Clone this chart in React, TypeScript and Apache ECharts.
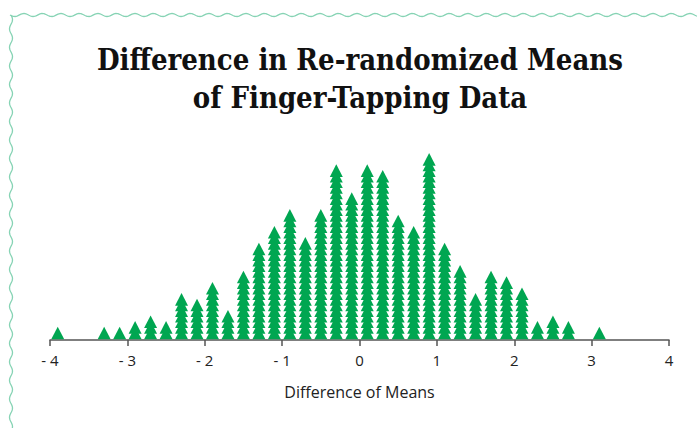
import React, { useEffect, useRef } from "react";
import * as echarts from "echarts";

// Difference of means (x position of each stack)
const diffValues = [
  -3.9, -3.3, -3.1, -2.9, -2.7, -2.5, -2.3, -2.1, -1.9, -1.7, -1.5, -1.3, -1.1,
  -0.9, -0.7, -0.5, -0.3, -0.1, 0.1, 0.3, 0.5, 0.7, 0.9, 1.1, 1.3, 1.5, 1.7,
  1.9, 2.1, 2.3, 2.5, 2.7, 3.1,
];
// Number of re-randomizations (triangles) in each stack
const stackCounts = [
  1, 1, 1, 2, 3, 2, 7, 6, 9, 4, 11, 16, 19, 22, 17, 22, 30, 25, 30, 29, 21, 19,
  32, 16, 12, 7, 11, 10, 8, 2, 3, 2, 1,
];
const titleLines = ["Difference in Re-randomized Means", "of Finger-Tapping Data"];
const axisTitle = "Difference of Means";

export default function App() {
  const ref = useRef<HTMLDivElement>(null);

  useEffect(() => {
    if (!ref.current) return;
    const chart = echarts.init(ref.current, null, { renderer: "svg" });

    const points: number[][] = [];
    diffValues.forEach((x, i) => {
      for (let k = 0; k < stackCounts[i]; k++) points.push([x, k]);
    });

    // decorative wavy border
    const topWave: number[][] = [];
    for (let x = 10; x <= 697; x += 1) {
      topWave.push([x, 15 + 1.5 * Math.sin((2 * Math.PI * (x - 10)) / 18.5)]);
    }
    const leftWave: number[][] = [];
    for (let y = 15; y <= 428; y += 1) {
      leftWave.push([11 + 1.5 * Math.sin((2 * Math.PI * (y - 15)) / 18.5), y]);
    }

    const titleFont = "'DejaVu Serif Condensed', 'DejaVu Serif', serif";

    chart.setOption({
      animation: false,
      backgroundColor: "#ffffff",
      grid: { left: 50, right: 28, top: 109, bottom: 88 },
      xAxis: {
        type: "value",
        min: -4,
        max: 4,
        interval: 1,
        name: axisTitle,
        nameLocation: "middle",
        nameGap: 44,
        nameTextStyle: {
          fontFamily: "'Liberation Sans Narrow', 'Open Sans', sans-serif",
          fontSize: 16,
          color: "#222",
        },
        axisLine: { show: true, onZero: false, lineStyle: { color: "#555", width: 1.5 } },
        axisTick: { show: true, length: 6, lineStyle: { color: "#555", width: 1.5 } },
        splitLine: { show: false },
        axisLabel: {
          margin: 12,
          fontFamily: "'Liberation Sans Narrow', 'Open Sans', sans-serif",
          fontSize: 15,
          color: "#222",
          formatter: (v: number) => (v < 0 ? "- " + Math.abs(v) : String(v)),
        },
      },
      yAxis: {
        type: "value",
        min: -1.25,
        max: 40,
        show: false,
      },
      series: [
        {
          type: "scatter",
          data: points,
          symbol: "triangle",
          symbolSize: [13, 12.6],
          itemStyle: { color: "#00a651", opacity: 1 },
          silent: true,
        },
      ],
      graphic: [
        {
          type: "polyline",
          shape: { points: topWave },
          style: { stroke: "#86d3b4", lineWidth: 1.3, fill: null },
        },
        {
          type: "polyline",
          shape: { points: leftWave },
          style: { stroke: "#86d3b4", lineWidth: 1.3, fill: null },
        },
        {
          type: "text",
          x: 360,
          y: 60,
          style: {
            text: titleLines[0],
            fontFamily: titleFont,
            fontWeight: "bold",
            fontSize: 29,
            fill: "#111",
            textAlign: "center",
            textVerticalAlign: "middle",
          },
        },
        {
          type: "text",
          x: 360,
          y: 98,
          style: {
            text: titleLines[1],
            fontFamily: titleFont,
            fontWeight: "bold",
            fontSize: 29,
            fill: "#111",
            textAlign: "center",
            textVerticalAlign: "middle",
          },
        },
      ],
    });

    return () => chart.dispose();
  }, []);

  return (
    <div
      ref={ref}
      style={{ position: "fixed", left: 0, top: 0, width: 697, height: 428 }}
    />
  );
}
